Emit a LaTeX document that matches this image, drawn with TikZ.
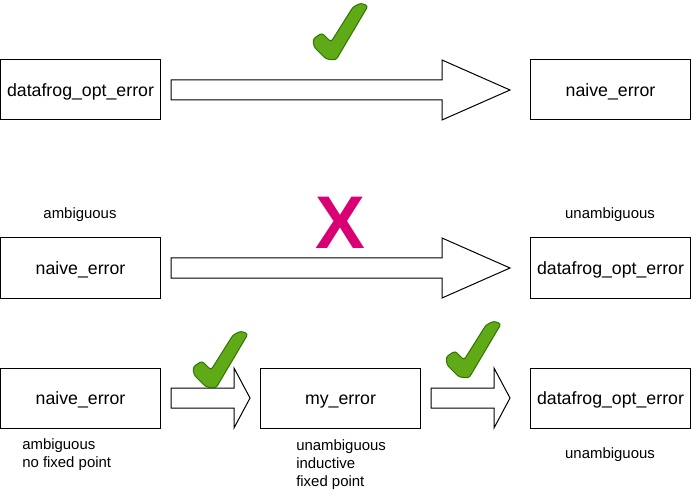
\documentclass[tikz,border=0pt]{standalone}
\usepackage{fontspec}
\setmainfont{Liberation Sans}
\usetikzlibrary{positioning, calc}

\definecolor{tickgreen}{HTML}{60A917}
\definecolor{tickdark}{HTML}{2D7600}
\definecolor{crossred}{HTML}{D80073}

\tikzset{
    box/.style={draw, line width=0.75pt, minimum width=120pt, minimum height=45pt, inner sep=0pt, text height=12pt, text depth=2.1pt, font=\fontsize{13.3}{16}\selectfont},
    note/.style={inner sep=0pt, align=left, font=\fontsize{11.2}{13.5}\selectfont},
    blockarrow/.style={draw, line width=0.75pt, fill=white, line join=miter},
    tick/.pic={
        \filldraw[fill=tickgreen, draw=tickdark, line width=0.75pt, rounded corners=2pt]
            (0,37) -- (9,31) -- (18,40) -- (40,5) -- (48,1) -- (55,4) -- (23,58) -- (13,57) -- (1,45) -- cycle;
    }
}

% block arrow: from, to, head length, gap before target
\newcommand{\blockarrow}[4]{%
    \draw[blockarrow] ($(#1.east)+(10,-10)$) -- ($(#2.west)+(-#4-#3,-10)$) -- ($(#2.west)+(-#4-#3,-30)$)
        -- ($(#2.west)+(-#4,0)$) -- ($(#2.west)+(-#4-#3,30)$) -- ($(#2.west)+(-#4-#3,10)$)
        -- ($(#1.east)+(10,10)$) -- cycle;}

\begin{document}
\begin{tikzpicture}[x=0.75pt, y=-0.75pt]
        \useasboundingbox (0,0) rectangle (691,491);

        % first row
        \node[box] (A1) at (80.5,90) {datafrog\_opt\_error};
        \node[box] (B1) at (610.5,90) {naive\_error};
        \blockarrow{A1}{B1}{68}{20}
        \pic at (313,2) {tick};

        % second row
        \node[box] (A2) at (80.5,268) {naive\_error};
        \node[box] (B2) at (610.5,268) {datafrog\_opt\_error};
        \blockarrow{A2}{B2}{68}{20}
        \node[note] (amb2) at (80,215) {ambiguous};
        \node[note] (unamb2) at (610,215) {unambiguous};
        \node[inner sep=0pt, text=crossred, font=\fontsize{56}{56}\selectfont\bfseries] (cross) at (340,223) {X};

        % third row
        \node[box] (A3) at (80.5,398) {naive\_error};
        \node[box] (M3) at (340.5,398) {my\_error};
        \node[box] (B3) at (610.5,398) {datafrog\_opt\_error};
        \blockarrow{A3}{M3}{16}{10}
        \blockarrow{M3}{B3}{16}{20}
        \pic at (193,330) {tick};
        \pic at (446,320) {tick};
        \node[note, anchor=west] (amb3) at (22,455) {ambiguous\\no fixed point};
        \node[note, anchor=west] (mid3) at (296,465) {unambiguous\\inductive\\fixed point};
        \node[note] (unamb3) at (610,455) {unambiguous};
    \end{tikzpicture}
\end{document}
